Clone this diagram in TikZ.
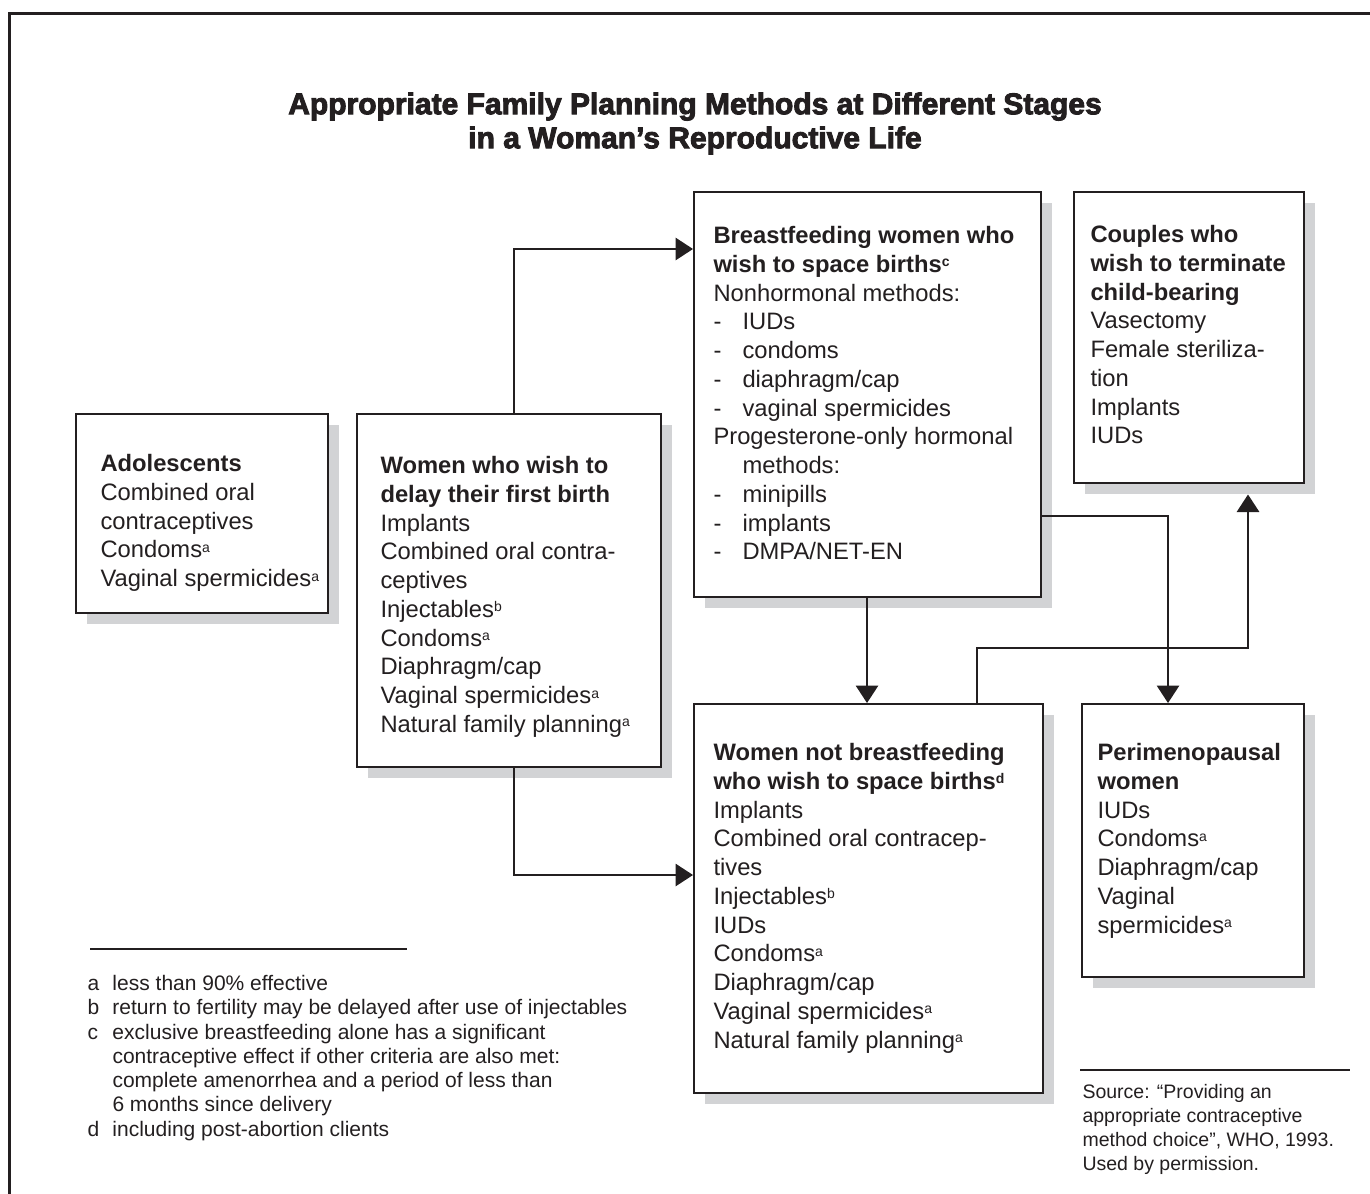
\documentclass[tikz,border=0pt]{standalone}
\usepackage{fontspec}
\setmainfont{Liberation Sans}
\newfontfamily\titlefont{Liberation Sans}[BoldFeatures={FakeBold=3}]
\usetikzlibrary{arrows.meta,shadows}

\definecolor{ink}{RGB}{35,31,32}
\definecolor{shadowgray}{RGB}{210,211,213}
\newcommand{\itemdash}{\makebox[11.6pt][l]{-}}
\newcommand{\fnmark}[1]{\raisebox{0.45ex}{\fontsize{5.6}{6}\selectfont #1}}

\tikzset{
  stagebox/.style={draw=ink, line width=0.6pt, fill=white, anchor=north west, inner sep=0pt,
    drop shadow={shadow xshift=4.4pt, shadow yshift=-4.4pt, fill=shadowgray, opacity=1}},
  stagetext/.style={anchor=north west, inner sep=0pt, align=left, text=ink,
    font=\fontsize{9.5}{11.5}\selectfont},
  flow/.style={draw=ink, line width=0.55pt, -{Triangle[length=7pt,width=9pt]}},
  note/.style={anchor=north west, inner sep=0pt, align=left, text=ink,
    font=\fontsize{8.4}{9.7}\selectfont}
}

\begin{document}
\begin{tikzpicture}[x=0.4pt, y=-0.4pt]

    \useasboundingbox (0,0) rectangle (1370,1193);

    % Outer frame
    \draw[ink, line width=1.2pt] (1380,13) -- (9,13) -- (9,1200);

    % Title
    \node[align=center, anchor=north, inner sep=0pt, text=ink,
          font=\titlefont\bfseries\fontsize{12}{13.6}\selectfont] (title) at (695,92)
        {Appropriate Family Planning Methods at Different Stages\\in a Woman’s Reproductive Life};

    % The stage boxes
    \node[stagebox, minimum width=100.8pt, minimum height=79.6pt] (adol) at (75,413) {};
    \node[stagebox, minimum width=121.6pt, minimum height=141.2pt] (delay) at (356,413) {};
    \node[stagebox, minimum width=138.8pt, minimum height=162pt] (bf) at (693,191) {};
    \node[stagebox, minimum width=92pt, minimum height=116.4pt] (couples) at (1073,191) {};
    \node[stagebox, minimum width=139.6pt, minimum height=155.6pt] (notbf) at (693,703) {};
    \node[stagebox, minimum width=88.8pt, minimum height=109.2pt] (peri) at (1081,703) {};

    % Box contents
    \node[stagetext] (adoltxt) at ([shift={(25,41)}]adol.north west)
        {\textbf{Adolescents}\\
         Combined oral\\
         contraceptives\\
         Condoms\fnmark{a}\\
         Vaginal spermicides\fnmark{a}};

    \node[stagetext] (delaytxt) at ([shift={(24,43)}]delay.north west)
        {\textbf{Women who wish to}\\
         \textbf{delay their first birth}\\
         Implants\\
         Combined oral contra-\\
         ceptives\\
         Injectables\fnmark{b}\\
         Condoms\fnmark{a}\\
         Diaphragm/cap\\
         Vaginal spermicides\fnmark{a}\\
         Natural family planning\fnmark{a}};

    \node[stagetext] (bftxt) at ([shift={(20,35)}]bf.north west)
        {\textbf{Breastfeeding women who}\\
         \textbf{wish to space births\fnmark{c}}\\
         Nonhormonal methods:\\
         \itemdash IUDs\\
         \itemdash condoms\\
         \itemdash diaphragm/cap\\
         \itemdash vaginal spermicides\\
         Progesterone-only hormonal\\
         \hspace*{11.6pt}methods:\\
         \itemdash minipills\\
         \itemdash implants\\
         \itemdash DMPA/NET-EN};

    \node[stagetext] (couplestxt) at ([shift={(17,34)}]couples.north west)
        {\textbf{Couples who}\\
         \textbf{wish to terminate}\\
         \textbf{child-bearing}\\
         Vasectomy\\
         Female steriliza-\\
         tion\\
         Implants\\
         IUDs};

    \node[stagetext] (notbftxt) at ([shift={(20,40)}]notbf.north west)
        {\textbf{Women not breastfeeding}\\
         \textbf{who wish to space births\fnmark{d}}\\
         Implants\\
         Combined oral contracep-\\
         tives\\
         Injectables\fnmark{b}\\
         IUDs\\
         Condoms\fnmark{a}\\
         Diaphragm/cap\\
         Vaginal spermicides\fnmark{a}\\
         Natural family planning\fnmark{a}};

    \node[stagetext] (peritxt) at ([shift={(16,40)}]peri.north west)
        {\textbf{Perimenopausal}\\
         \textbf{women}\\
         IUDs\\
         Condoms\fnmark{a}\\
         Diaphragm/cap\\
         Vaginal\\
         spermicides\fnmark{a}};

    % Connectors
    \draw[flow] ([shift={(158,0)}]delay.north west) |- ([shift={(0,58)}]bf.north west);
    \draw[flow] ([shift={(158,0)}]delay.south west) |- ([shift={(0,172)}]notbf.north west);
    \draw[flow] ([shift={(174,0)}]bf.south west) -- ([shift={(174,0)}]notbf.north west);
    \draw[flow] ([shift={(0,325)}]bf.north east) -| ([shift={(87,0)}]peri.north west);
    \draw[flow] ([shift={(284,0)}]notbf.north west) |- ++(0,-55)
        -| ([shift={(175,11)}]couples.south west);

    % Footnotes
    \draw[ink, line width=0.5pt] (90,949) -- (407,949);
    \node[note] (notes) at (87,975)
        {\makebox[10pt][l]{a}less than 90\% effective\\
         \makebox[10pt][l]{b}return to fertility may be delayed after use of injectables\\
         \makebox[10pt][l]{c}exclusive breastfeeding alone has a significant\\
         \hspace*{10pt}contraceptive effect if other criteria are also met:\\
         \hspace*{10pt}complete amenorrhea and a period of less than\\
         \hspace*{10pt}6 months since delivery\\
         \makebox[10pt][l]{d}including post-abortion clients};

    % Source
    \draw[ink, line width=0.5pt] (1080,1070) -- (1350,1070);
    \node[note, font=\fontsize{7.8}{9.6}\selectfont] (source) at (1082,1084)
        {Source: “Providing an\\
         appropriate contraceptive\\
         method choice”, WHO, 1993.\\
         Used by permission.};

\end{tikzpicture}
\end{document}
